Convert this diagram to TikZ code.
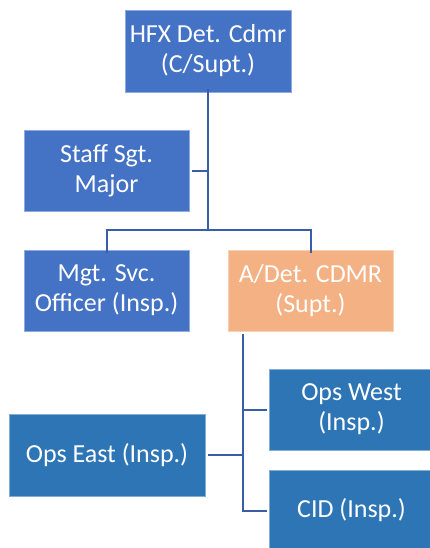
\documentclass[tikz,border=0pt]{standalone}
\usepackage{fontspec}
\setmainfont{Carlito}
\definecolor{boxblue}{HTML}{4472C4}
\definecolor{boxorange}{HTML}{F4B183}
\definecolor{boxdeep}{HTML}{2E75B6}
\definecolor{linkblue}{HTML}{3A5DA8}
\begin{document}
\begin{tikzpicture}[x=1pt,y=-1pt,
  orgbox/.style={rectangle, inner sep=0pt, align=center, text=white,
    font=\fontsize{26pt}{30pt}\selectfont, line width=0.7pt},
  bluebox/.style={orgbox, fill=boxblue, draw=boxblue!60!white, minimum width=165pt, minimum height=81pt},
  orangebox/.style={orgbox, fill=boxorange, draw=boxorange!60!white, minimum width=165pt, minimum height=81pt},
  deepbox/.style={orgbox, fill=boxdeep, draw=boxdeep!60!white, minimum height=81pt},
  conn/.style={draw=linkblue, line width=2pt}]
\useasboundingbox (0,0) rectangle (430,548);
\node[bluebox, minimum width=166pt, minimum height=82pt] (top) at (208,51) {HFX Det. Cdmr\\(C/Supt.)};
\node[bluebox] (staff) at (106.5,170.5) {Staff Sgt.\\Major};
\node[bluebox] (mgt) at (106.5,290.5) {Mgt. Svc.\\Officer (Insp.)};
\node[orangebox] (adet) at (310.5,290.5) {A/Det. CDMR\\(Supt.)};
\node[deepbox, minimum width=165pt] (west) at (351.5,409.5) {Ops West\\(Insp.)};
\node[deepbox, minimum width=196pt, minimum height=82pt] (east) at (107,455) {Ops East (Insp.)};
\node[deepbox, minimum width=165pt] (cid) at (351.5,510.5) {CID (Insp.)};
\coordinate (jA) at (208,230);
\coordinate (sp) at (243,334);
\draw[conn] ([yshift=3pt]top.south) -- (jA);
\draw[conn] ([xshift=3pt]staff.east) -- (top.south |- staff.east);
\draw[conn] ([yshift=-3pt]mgt.north) -- (mgt.north |- jA) -- (adet.north |- jA) -- ([yshift=-3pt]adet.north);
\draw[conn] (sp) |- ([xshift=-2pt]cid.west);
\draw[conn] (sp |- west.west) -- ([xshift=-2pt]west.west);
\draw[conn] ([xshift=3pt]east.east) -- (sp |- east.east);
\end{tikzpicture}
\end{document}
